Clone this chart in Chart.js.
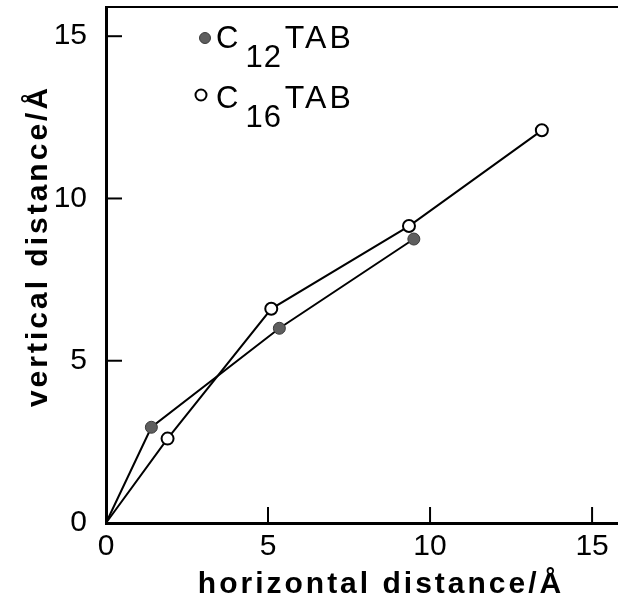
<!DOCTYPE html>
<html>
<head>
<meta charset="utf-8">
<script src="https://cdn.jsdelivr.net/npm/chart.js@4/dist/chart.umd.min.js"></script>
<style>
  html, body { margin: 0; padding: 0; background: #fff; overflow: hidden; }
  #wrap { width: 618px; height: 603px; position: relative; }
  #wrap canvas { display: block; }
</style>
</head>
<body>
<div id="wrap"><canvas id="myChart"></canvas></div>
<script>
// values (Å)
const c12X = [0, 1.4, 5.35, 9.5];
const c12Y = [0, 2.95, 6.0, 8.75];
const c16X = [0, 1.9, 5.1, 9.35, 13.45];
const c16Y = [0, 2.6, 6.6, 9.15, 12.1];
const tickVals = [0, 5, 10, 15];
const xTitle = 'horizontal distance/Å';
const yTitle = 'vertical distance/Å';
// legend text: base, subscript, rest
const legendParts = [['C', '12', 'TAB'], ['C', '16', 'TAB']];

const FONT = '"Liberation Sans", Arial, Helvetica, sans-serif';

function toPoints(xs, ys) {
    return xs.map((x, i) => ({ x: x, y: ys[i] }));
}

// top frame line, inward ticks, axis titles and legend with subscripts
const frame = {
    id: 'frame',
    afterDraw(chart) {
        const ctx = chart.ctx;
        const area = chart.chartArea;
        const xs = chart.scales.x, ys = chart.scales.y;
        ctx.save();
        ctx.strokeStyle = '#000';
        ctx.lineWidth = 2;
        ctx.beginPath();
        ctx.moveTo(area.left, area.top);
        ctx.lineTo(area.right, area.top);
        ctx.stroke();
        tickVals.forEach(v => {
            if (v === 0) return;
            const px = xs.getPixelForValue(v);
            ctx.beginPath();
            ctx.moveTo(px, area.bottom);
            ctx.lineTo(px, area.bottom - 16);
            ctx.stroke();
            const py = ys.getPixelForValue(v);
            ctx.beginPath();
            ctx.moveTo(area.left, py);
            ctx.lineTo(area.left + 16, py);
            ctx.stroke();
        });

        // axis titles
        ctx.fillStyle = '#000';
        ctx.font = 'bold 30px ' + FONT;
        ctx.letterSpacing = '3px';
        ctx.textAlign = 'center';
        ctx.textBaseline = 'alphabetic';
        ctx.fillText(xTitle, 381, 593);
        ctx.save();
        ctx.translate(47, 246);
        ctx.rotate(-Math.PI / 2);
        ctx.fillText(yTitle, 0, 0);
        ctx.restore();

        // legend
        ctx.textAlign = 'left';
        const rows = [{ m: 38, b: 48, mx: 205 }, { m: 95, b: 108, mx: 201 }];
        chart.data.datasets.forEach((ds, i) => {
            const r = rows[i];
            ctx.beginPath();
            ctx.arc(r.mx, r.m, 5.5, 0, Math.PI * 2);
            ctx.fillStyle = ds.pointBackgroundColor;
            ctx.fill();
            ctx.lineWidth = ds.pointBorderWidth;
            ctx.strokeStyle = ds.pointBorderColor;
            ctx.stroke();
            const p = legendParts[i];
            ctx.fillStyle = '#000';
            ctx.font = '31px ' + FONT;
            ctx.letterSpacing = '0px';
            let x = 216;
            ctx.fillText(p[0], x, r.b);
            x += ctx.measureText(p[0]).width + 7;
            ctx.letterSpacing = '1px';
            ctx.fillText(p[1], x, r.b + 19);
            x += ctx.measureText(p[1]).width + 3;
            ctx.font = '32px ' + FONT;
            ctx.letterSpacing = '3px';
            ctx.fillText(p[2], x, r.b);
        });
        ctx.restore();
    }
};

const ctx = document.getElementById('myChart');

const data = {
    datasets: [{
        label: 'C12TAB',
        data: toPoints(c12X, c12Y),
        borderColor: '#000',
        borderWidth: 2,
        pointBackgroundColor: '#5e5e5e',
        pointBorderColor: '#3a3a3a',
        pointBorderWidth: 1,
        pointRadius: (c) => c.dataIndex === 0 ? 0 : 6,
        tension: 0
    }, {
        label: 'C16TAB',
        data: toPoints(c16X, c16Y),
        borderColor: '#000',
        borderWidth: 2,
        pointBackgroundColor: '#fff',
        pointBorderColor: '#000',
        pointBorderWidth: 2,
        pointRadius: (c) => c.dataIndex === 0 ? 0 : 6,
        tension: 0
    }]
};

const config = {
    type: 'scatter',
    data: data,
    plugins: [frame],
    options: {
        responsive: true,
        maintainAspectRatio: false,
        animation: false,
        showLine: true,
        clip: false,
        layout: { autoPadding: false, padding: { top: 7, right: 0, left: 0, bottom: 0 } },
        plugins: {
            legend: { display: false },
            tooltip: { enabled: false }
        },
        scales: {
            x: {
                type: 'linear',
                min: 0,
                max: 15.8,
                afterFit: (s) => { s.height = 80; s.paddingLeft = 0; s.paddingRight = 0; },
                afterBuildTicks: (s) => { s.ticks = tickVals.map(v => ({ value: v })); },
                grid: { display: false, drawTicks: false },
                border: { display: true, color: '#000', width: 3 },
                ticks: {
                    color: '#000',
                    padding: 6,
                    maxRotation: 0,
                    autoSkip: false,
                    font: { family: FONT, size: 30 }
                }
            },
            y: {
                type: 'linear',
                min: 0,
                max: 15.9,
                afterFit: (s) => { s.width = 106; s.paddingTop = 0; s.paddingBottom = 0; },
                afterBuildTicks: (s) => { s.ticks = tickVals.map(v => ({ value: v })); },
                grid: { display: false, drawTicks: false },
                border: { display: true, color: '#000', width: 3 },
                ticks: {
                    color: '#000',
                    padding: 19,
                    autoSkip: false,
                    font: { family: FONT, size: 30 }
                }
            }
        }
    }
};

window.myChart = new Chart(ctx, config);
</script>
</body>
</html>
